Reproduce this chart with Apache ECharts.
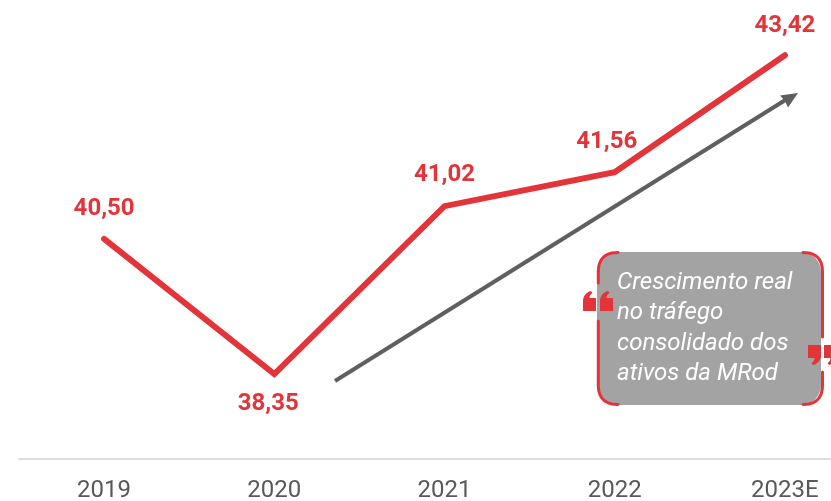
<!DOCTYPE html>
<html>
<head>
<meta charset="utf-8">
<style>html,body{margin:0;padding:0;background:#fff}#chart{width:831px;height:501px}</style>
<script src="https://cdn.jsdelivr.net/npm/echarts@6/dist/echarts.min.js"></script>
</head>
<body>
<div id="chart"></div>
<script>
const years = ['2019', '2020', '2021', '2022', '2023E'];
const values = [40.50, 38.35, 41.02, 41.56, 43.42];
const calloutLines = ['Crescimento real', 'no tráfego', 'consolidado dos', 'ativos da MRod'];

const RED = '#e3343a';
const GREY = '#5f5f5f';

// Value label placement relative to each point.
const labelShift = [[0, -30], [-6, 30], [0, -31], [-8, -30], [0, -29]];

// Samples a quadratic curve into points usable by polygon and polyline elements.
const curve = (a, c, b) => {
  const pts = [];
  for (let i = 0; i <= 12; i++) {
    const t = i / 12, u = 1 - t;
    pts.push([u * u * a[0] + 2 * u * t * c[0] + t * t * b[0], u * u * a[1] + 2 * u * t * c[1] + t * t * b[1]]);
  }
  return pts;
};

// Block quotation mark: square body with a curved flag on top or below.
const openQuote = (x, y) => ({
  type: 'polygon',
  z: 20,
  shape: { points: [
    ...curve([x, y + 9], [x + 1, y + 2], [x + 8, y]),
    ...curve([x + 9.5, y + 2], [x + 6.5, y + 4], [x + 6.5, y + 7]),
    [x + 13, y + 7], [x + 13, y + 20], [x, y + 20]
  ] },
  style: { fill: RED }
});
const closeQuote = (x, y) => ({
  type: 'polygon',
  z: 20,
  shape: { points: [
    ...curve([x + 13, y + 11], [x + 12, y + 18], [x + 5, y + 20]),
    ...curve([x + 3.5, y + 18], [x + 6.5, y + 16], [x + 6.5, y + 13]),
    [x, y + 13], [x, y], [x + 13, y]
  ] },
  style: { fill: RED }
});
const redStroke = (points) => ({
  type: 'polyline',
  z: 15,
  shape: { points },
  style: { fill: null, stroke: RED, lineWidth: 3, lineCap: 'round', lineJoin: 'round' }
});

const chart = echarts.init(document.getElementById('chart'), null, { renderer: 'canvas' });
chart.setOption({
  animation: false,
  backgroundColor: '#fff',
  grid: { left: 19, top: 18.7, width: 851, height: 440.3, containLabel: false, outerBoundsMode: 'none' },
  xAxis: {
    type: 'category',
    data: years,
    axisTick: { show: false },
    axisLine: { lineStyle: { color: '#dcdcdc', width: 2 } },
    axisLabel: { color: '#595959', fontFamily: 'Roboto', fontSize: 24, margin: 20, interval: 0, hideOverlap: false }
  },
  yAxis: { type: 'value', min: 37, max: 44, show: false, splitLine: { show: false } },
  series: [{
    type: 'line',
    data: values.map((v, i) => ({
      value: v,
      label: { position: labelShift[i] }
    })),
    symbol: 'circle',
    symbolSize: 0,
    showSymbol: true,
    showAllSymbol: true,
    clip: false,
    itemStyle: { color: RED },
    lineStyle: { color: RED, width: 6, cap: 'round', join: 'miter' },
    label: {
      show: true,
      color: RED,
      fontFamily: 'Roboto',
      fontWeight: 'bold',
      fontSize: 24,
      align: 'center',
      verticalAlign: 'middle',
      formatter: (p) => p.value.toFixed(2).replace('.', ',')
    },
    labelLayout: { hideOverlap: false },
    z: 5
  }],
  graphic: [
    // Trend arrow
    { type: 'line', z: 6, shape: { x1: 335, y1: 381, x2: 787, y2: 99 }, style: { stroke: GREY, lineWidth: 4 } },
    { type: 'polygon', z: 6, shape: { points: [[798, 93], [788, 107.5], [785, 101], [780, 95.5]] }, style: { fill: GREY } },
    // Callout panel
    { type: 'rect', z: 10, shape: { x: 597, y: 252, width: 224, height: 153, r: 20 }, style: { fill: '#a3a3a3' } },
    redStroke([[598.3, 283], ...curve([598.3, 272], [598.3, 252.5], [618, 252.5])]),
    redStroke([[598.3, 321], ...curve([598.3, 385], [598.3, 404.5], [618, 404.5])]),
    redStroke([...curve([803, 252.5], [822.5, 252.5], [822.5, 272]), [822.5, 337]]),
    redStroke([[822.5, 372], ...curve([822.5, 385], [822.5, 404.5], [803, 404.5])]),
    openQuote(583, 291),
    openQuote(600, 291),
    closeQuote(808, 345),
    closeQuote(824, 345),
    ...calloutLines.map((t, i) => ({
      type: 'text',
      z: 25,
      style: {
        x: 617,
        y: 283 + i * 30.3,
        text: t,
        fill: '#fff',
        fontFamily: 'Roboto',
        fontStyle: 'italic',
        fontWeight: 400,
        fontSize: 24,
        verticalAlign: 'middle'
      }
    }))
  ]
});
</script>
</body>
</html>
